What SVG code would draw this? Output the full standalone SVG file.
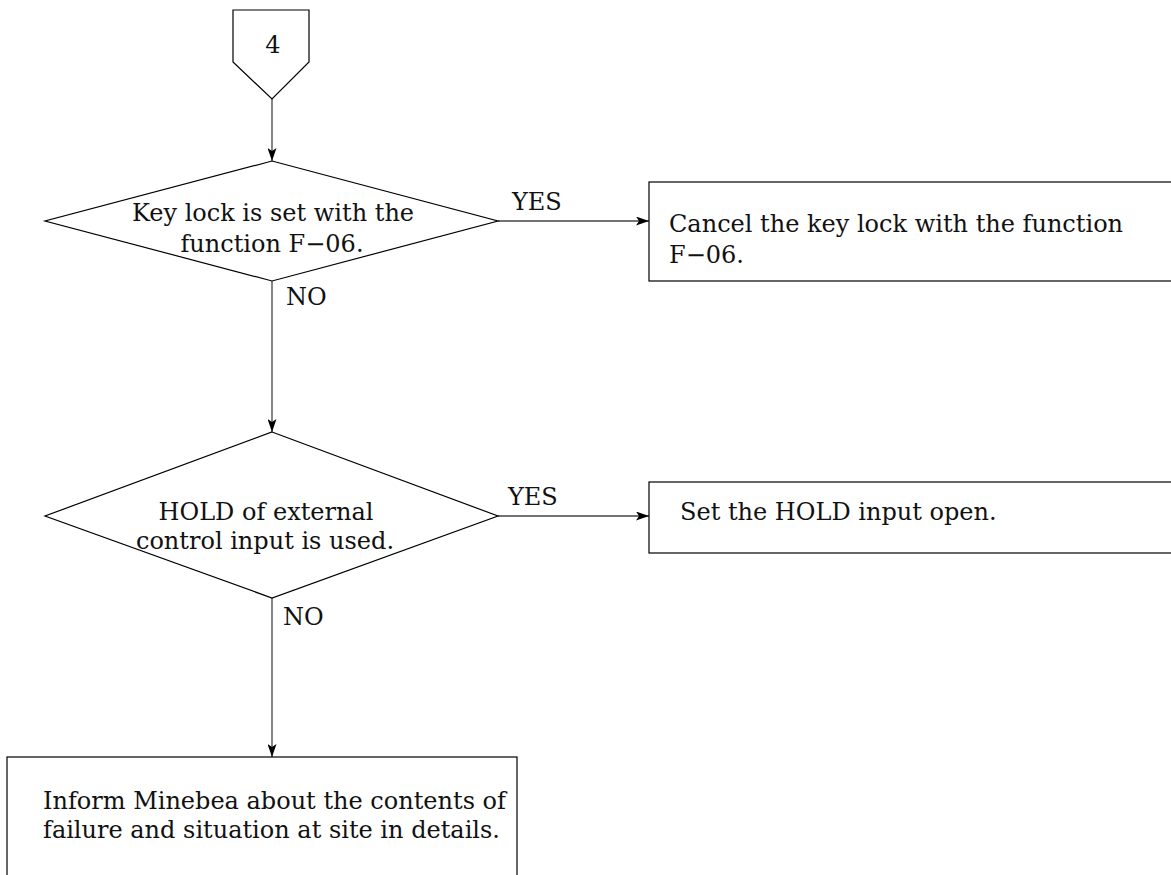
<svg xmlns="http://www.w3.org/2000/svg" width="1171" height="875" viewBox="0 0 1171 875">
<defs>
<marker id="arr" viewBox="0 0 13 9" refX="13" refY="4.5" markerWidth="13" markerHeight="9" markerUnits="userSpaceOnUse" orient="auto">
<path d="M0,0 L13,4.5 L0,9 L3,4.5 Z" fill="#000"/>
</marker>
<style>
.s{fill:#fff;stroke:#000;stroke-width:1.2}
.c{fill:none;stroke:#444;stroke-width:1.3}
text{font-family:"DejaVu Serif","Liberation Serif",serif;font-size:24px;fill:#111}
.m{text-anchor:middle}
</style>
</defs>
<rect width="1171" height="875" fill="#fff"/>
<g id="connectors">
<line class="c" x1="272" y1="99" x2="272" y2="161" marker-end="url(#arr)"/>
<line class="c" x1="498" y1="221" x2="649" y2="221" marker-end="url(#arr)"/>
<line class="c" x1="272" y1="281" x2="272" y2="432" marker-end="url(#arr)"/>
<line class="c" x1="498" y1="516" x2="649" y2="516" marker-end="url(#arr)"/>
<line class="c" x1="272" y1="598" x2="272" y2="757" marker-end="url(#arr)"/>
<text x="512" y="210">YES</text>
<text x="286" y="305">NO</text>
<text x="508" y="505">YES</text>
<text x="283" y="625">NO</text>
</g>
<g id="start">
<polygon class="s" points="233,10 309,10 309,62 272,99 233,62"/>
<text class="m" x="273" y="53">4</text>
</g>
<g id="d1">
<polygon class="s" points="272,161 498,221 272,281 45,221"/>
<text class="m" x="273" y="221">Key lock is set with the</text>
<text class="m" x="272" y="252">function F−06.</text>
</g>
<g id="b1">
<rect class="s" x="649" y="182" width="530" height="99"/>
<text x="669" y="232">Cancel the key lock with the function</text>
<text x="669" y="263">F−06.</text>
</g>
<g id="d2">
<polygon class="s" points="272,432 498,516 272,598 45,516"/>
<text class="m" x="266" y="520">HOLD of external</text>
<text class="m" x="265" y="549">control input is used.</text>
</g>
<g id="b2">
<rect class="s" x="649" y="482" width="530" height="71"/>
<text x="680" y="520">Set the HOLD input open.</text>
</g>
<g id="b3">
<rect class="s" x="7" y="757" width="510" height="130"/>
<text x="43" y="809">Inform Minebea about the contents of</text>
<text x="43" y="838">failure and situation at site in details.</text>
</g>
</svg>
